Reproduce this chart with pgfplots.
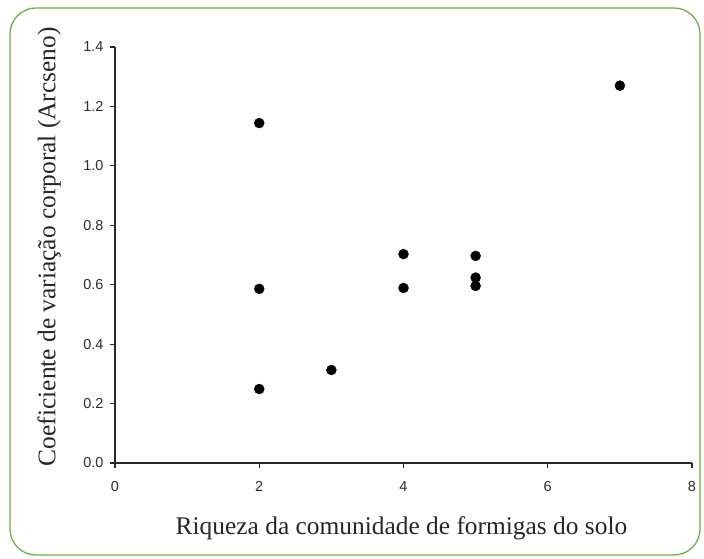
\documentclass[border=0pt]{standalone}
\usepackage{pgfplots}
\pgfplotsset{compat=1.18}
\usepackage{fontspec}
\setmainfont{Liberation Serif}
\newfontfamily\tickfont{Liberation Sans}
\definecolor{framegreen}{RGB}{112,173,71}
\definecolor{axisgray}{RGB}{40,40,40}
\definecolor{tickgray}{RGB}{45,45,45}

\begin{document}
\begin{tikzpicture}
\useasboundingbox (-115bp,-96bp) rectangle (589bp,463bp);
\draw[framegreen, line width=1.3bp, rounded corners=26bp]
  (-105bp,-92bp) rectangle (585bp,455bp);
\begin{axis}[
  scale only axis,
  width=577bp, height=416bp,
  xmin=0, xmax=8, ymin=0, ymax=1.4,
  xtick={0,2,4,6,8},
  ytick={0,0.2,0.4,0.6,0.8,1.0,1.2,1.4},
  axis x line*=bottom, axis y line*=left,
  axis line style={axisgray, line width=1.3bp, -},
  tick style={axisgray, line width=1.2bp},
  tick align=outside,
  major tick length=5bp,
  /pgf/number format/assume math mode=true,
  tick label style={font=\tickfont\fontsize{14.5}{16}\selectfont, text=tickgray},
  xticklabel style={yshift=-10bp},
  yticklabel style={xshift=-3bp, /pgf/number format/.cd, fixed, fixed zerofill, precision=1},
  xlabel={Riqueza da comunidade de formigas do solo},
  ylabel={Coeficiente de variação corporal (Arcseno)},
  label style={font=\fontsize{25.5}{28}\selectfont, text=black!85},
  xlabel style={at={(axis description cs:0.4965,-0.157)}, anchor=center},
  ylabel style={at={(axis description cs:-0.114,0.52)}, anchor=center, rotate=0},
  clip=false,
]
\addplot[only marks, mark=*, mark size=5bp, black] coordinates {
  (2,1.144) (2,0.586) (2,0.249)
  (3,0.313)
  (4,0.703) (4,0.589)
  (5,0.697) (5,0.624) (5,0.596)
  (7,1.270)
};
\end{axis}
\end{tikzpicture}
\end{document}
